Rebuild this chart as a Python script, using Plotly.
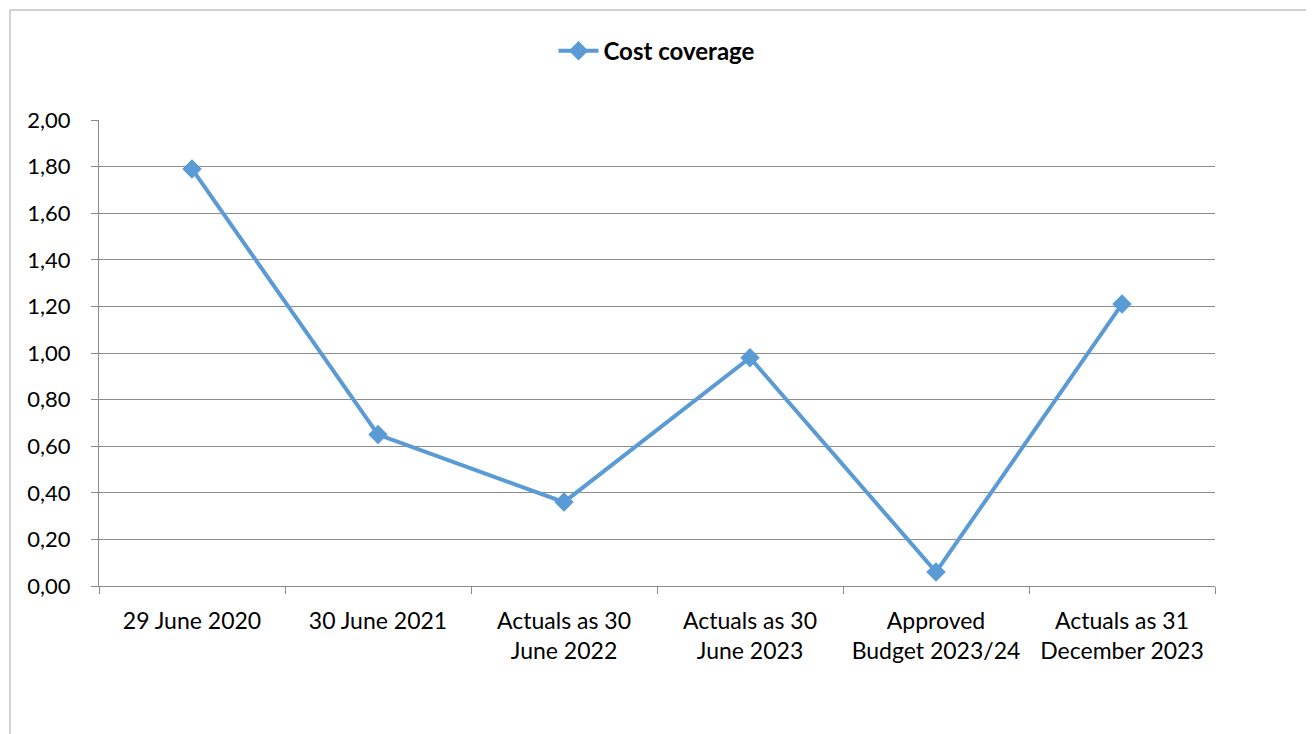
import plotly.graph_objects as go

categories = [
    "29 June 2020",
    "30 June 2021",
    "Actuals as 30<br>June 2022",
    "Actuals as 30<br>June 2023",
    "Approved<br>Budget 2023/24",
    "Actuals as 31<br>December 2023",
]
cost_coverage = [1.79, 0.65, 0.36, 0.98, 0.06, 1.21]
y_ticks = [0, 0.2, 0.4, 0.6, 0.8, 1.0, 1.2, 1.4, 1.6, 1.8, 2.0]

BLUE = "#5B9BD5"
GRID = "#8C8C8C"
FONT = "Lato"

fig = go.Figure()
fig.add_trace(go.Scatter(
    x=categories,
    y=cost_coverage,
    mode="lines+markers",
    name="<b>Cost coverage</b>",
    line=dict(color=BLUE, width=4),
    marker=dict(symbol="diamond", size=15, color=BLUE),
))

fig.update_layout(
    width=1314,
    height=734,
    margin=dict(l=91, r=107, t=112, b=156),
    paper_bgcolor="white",
    plot_bgcolor="white",
    separators=",.",
    font=dict(family=FONT, size=22, color="black"),
    showlegend=True,
    legend=dict(
        orientation="h",
        x=0.5, xanchor="center",
        y=0.148 + 1.0, yanchor="middle",
        font=dict(family=FONT, size=24, color="black"),
        itemwidth=40,
    ),
    xaxis=dict(
        type="category",
        tickson="boundaries",
        ticks="outside",
        ticklen=7,
        tickcolor=GRID,
        showline=True,
        linecolor=GRID,
        linewidth=1,
        showgrid=False,
        tickfont=dict(family=FONT, size=23),
        ticklabelstandoff=14,
        range=[-0.5, 5.5],
        fixedrange=True,
    ),
    yaxis=dict(
        range=[0, 2.0],
        tickvals=y_ticks,
        tickformat=".2f",
        ticks="outside",
        ticklen=7,
        tickcolor=GRID,
        showline=True,
        linecolor=GRID,
        linewidth=1,
        showgrid=True,
        gridcolor=GRID,
        gridwidth=1,
        zeroline=False,
        tickfont=dict(family=FONT, size=22),
        ticklabelstandoff=16,
    ),
    shapes=[
        dict(
            type="rect", xref="paper", yref="paper",
            x0=(10 - 99) / 1116, x1=(1308 - 99) / 1116,
            y0=(586 - 760) / 466, y1=(586 - 10) / 466,
            line=dict(color="#A6A6A6", width=1),
            fillcolor="rgba(0,0,0,0)",
            layer="below",
        )
    ],
)

fig.write_html("out.html")
